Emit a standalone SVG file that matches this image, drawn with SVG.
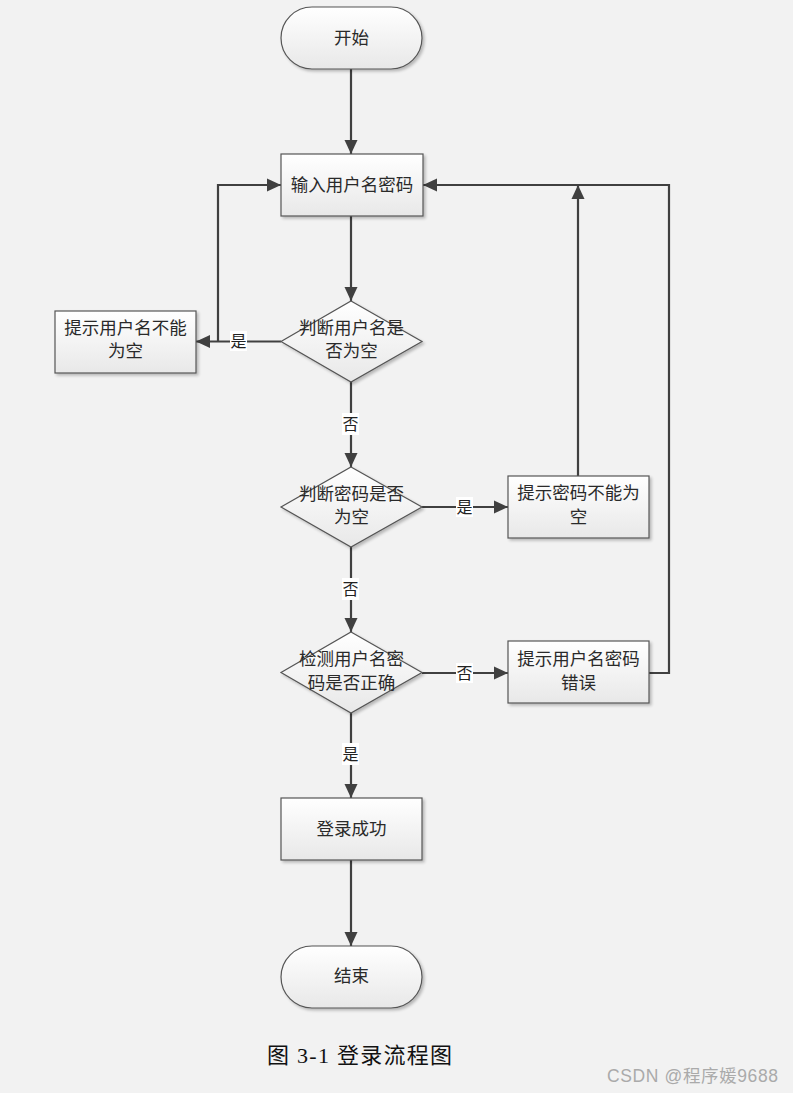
<svg xmlns="http://www.w3.org/2000/svg" width="793" height="1093" viewBox="0 0 793 1093">
<defs>
<linearGradient id="g" x1="0" y1="0" x2="0" y2="1">
<stop offset="0" stop-color="#ffffff"/>
<stop offset="1" stop-color="#e8e8e8"/>
</linearGradient>
<filter id="sh" x="-10%" y="-10%" width="130%" height="130%">
<feGaussianBlur in="SourceAlpha" stdDeviation="1.5"/>
<feOffset dx="2" dy="2"/>
<feComponentTransfer><feFuncA type="linear" slope="0.25"/></feComponentTransfer>
<feMerge><feMergeNode/><feMergeNode in="SourceGraphic"/></feMerge>
</filter>
<marker id="ah" markerWidth="14" markerHeight="14" viewBox="0 0 14 14" refX="14" refY="7" orient="auto" markerUnits="userSpaceOnUse">
<path d="M0,0.5 L14,7 L0,13.5 Z" fill="#404040"/>
</marker>
</defs>
<style>
.n{fill:url(#g);stroke:#555;stroke-width:1.2;filter:url(#sh)}
.t{font-family:"Liberation Serif","Noto Sans CJK SC",serif;font-size:17.5px;fill:#2a2a2a;text-anchor:middle}
.c{fill:none;stroke:#404040;stroke-width:2.2}
.lb{fill:#fff}
.l{font-family:"Liberation Serif","Noto Sans CJK SC",serif;font-size:16px;fill:#222;text-anchor:middle}
</style>
<rect width="793" height="1093" fill="#f2f2f2"/>

<g id="connectors">
<line class="c" x1="351" y1="69" x2="351" y2="154" marker-end="url(#ah)"/>
<line class="c" x1="351" y1="216" x2="351" y2="301" marker-end="url(#ah)"/>
<line class="c" x1="281" y1="341.5" x2="196" y2="341.5" marker-end="url(#ah)"/>
<polyline class="c" points="218,341.5 218,185 281,185" marker-end="url(#ah)"/>
<line class="c" x1="351" y1="381" x2="351" y2="467" marker-end="url(#ah)"/>
<line class="c" x1="422" y1="507" x2="508" y2="507" marker-end="url(#ah)"/>
<line class="c" x1="578" y1="476" x2="578" y2="185" marker-end="url(#ah)"/>
<line class="c" x1="351" y1="547" x2="351" y2="632" marker-end="url(#ah)"/>
<line class="c" x1="422" y1="673" x2="508" y2="673" marker-end="url(#ah)"/>
<polyline class="c" points="649,673 669,673 669,185 423,185" marker-end="url(#ah)"/>
<line class="c" x1="351" y1="713" x2="351" y2="798" marker-end="url(#ah)"/>
<line class="c" x1="351" y1="860" x2="351" y2="946" marker-end="url(#ah)"/>
<rect class="lb" x="230" y="331" width="17" height="20"/>
<text class="l" x="238.5" y="347">是</text>
<rect class="lb" x="342" y="413" width="17" height="22"/>
<text class="l" x="350.5" y="430">否</text>
<rect class="lb" x="456" y="497" width="17" height="20"/>
<text class="l" x="464.5" y="513">是</text>
<rect class="lb" x="342" y="578" width="17" height="22"/>
<text class="l" x="350.5" y="595">否</text>
<rect class="lb" x="456" y="663" width="17" height="20"/>
<text class="l" x="464.5" y="679">否</text>
<rect class="lb" x="342" y="743" width="17" height="22"/>
<text class="l" x="350.5" y="760">是</text>
</g>

<g id="start">
<rect class="n" x="281" y="7" width="141" height="62" rx="31" ry="31"/>
<text class="t" x="351.5" y="44">开始</text>
</g>
<g id="input">
<rect class="n" x="281" y="154" width="142" height="62"/>
<text class="t" x="352" y="191">输入用户名密码</text>
</g>
<g id="check-user">
<polygon class="n" points="351,301 422,341.5 351,382 281,341.5"/>
<text class="t" x="351.5" y="334">判断用户名是</text>
<text class="t" x="351.5" y="357">否为空</text>
</g>
<g id="tip-user">
<rect class="n" x="55" y="311" width="141" height="62"/>
<text class="t" x="125.5" y="334">提示用户名不能</text>
<text class="t" x="125.5" y="357">为空</text>
</g>
<g id="check-pwd">
<polygon class="n" points="351,467 422,507 351,547 281,507"/>
<text class="t" x="351.5" y="500">判断密码是否</text>
<text class="t" x="351.5" y="523">为空</text>
</g>
<g id="tip-pwd">
<rect class="n" x="508" y="476" width="141" height="62"/>
<text class="t" x="578.5" y="499">提示密码不能为</text>
<text class="t" x="578.5" y="523">空</text>
</g>
<g id="verify">
<polygon class="n" points="351,632 422,672.5 351,713 281,672.5"/>
<text class="t" x="351.5" y="665">检测用户名密</text>
<text class="t" x="351.5" y="689">码是否正确</text>
</g>
<g id="tip-error">
<rect class="n" x="508" y="641" width="141" height="62"/>
<text class="t" x="578.5" y="665">提示用户名密码</text>
<text class="t" x="578.5" y="689">错误</text>
</g>
<g id="success">
<rect class="n" x="281" y="798" width="141" height="62"/>
<text class="t" x="351.5" y="835">登录成功</text>
</g>
<g id="end">
<rect class="n" x="281" y="946" width="141" height="62" rx="31" ry="31"/>
<text class="t" x="351.5" y="982">结束</text>
</g>

<text x="267" y="1063" font-family="'Liberation Serif','Noto Sans CJK SC',serif" font-size="22" fill="#111" textLength="185" lengthAdjust="spacing">图 3-1 登录流程图</text>
<text x="607" y="1082" font-family="'Liberation Sans','Noto Sans CJK SC',sans-serif" font-size="17.5" fill="#aaa" textLength="171" lengthAdjust="spacing">CSDN @程序媛9688</text>
</svg>
